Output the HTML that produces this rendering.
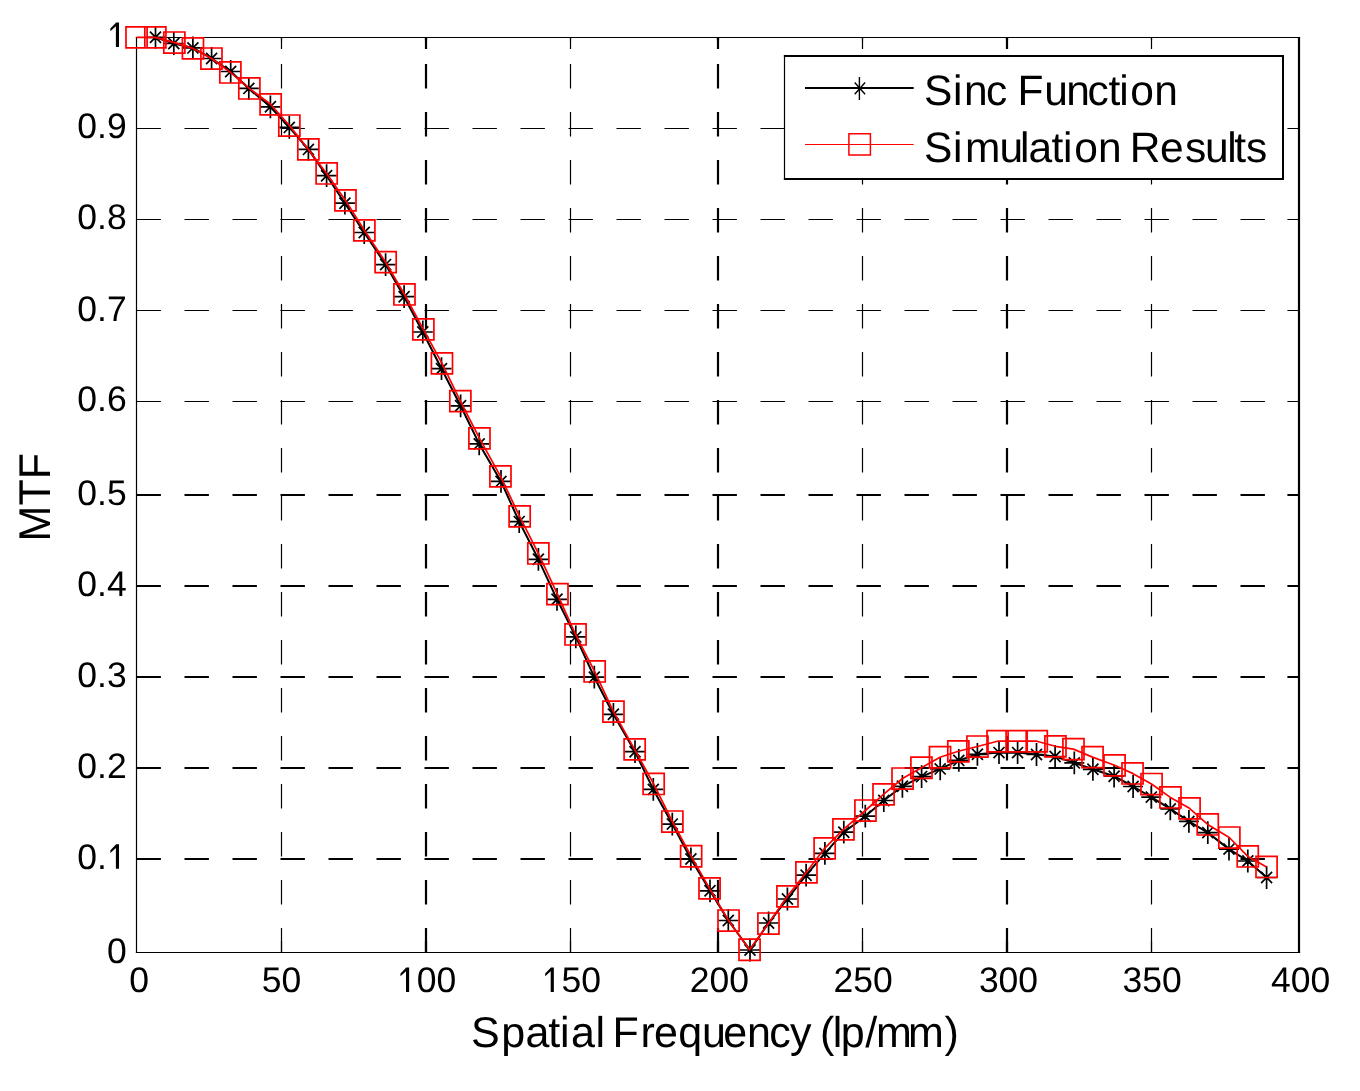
<!DOCTYPE html><html><head><meta charset="utf-8"><style>html,body{margin:0;padding:0;background:#fff;overflow:hidden}svg{display:block;will-change:transform}text{font-family:"Liberation Sans",sans-serif}</style></head><body><svg width="1360" height="1091" viewBox="0 0 1360 1091">
<rect x="0" y="0" width="1360" height="1091" fill="#fff"/>
<g stroke="#000" fill="none" stroke-dasharray="24.4 23.6"><path d="M281.5,952.5V37.5" stroke-width="1.2"/><path d="M426.0,952.5V37.5" stroke-width="2.2"/><path d="M570.5,952.5V37.5" stroke-width="1.2"/><path d="M718.0,952.5V37.5" stroke-width="2.2"/><path d="M862.5,952.5V37.5" stroke-width="1.2"/><path d="M1007.0,952.5V37.5" stroke-width="2.2"/><path d="M1151.5,952.5V37.5" stroke-width="1.2"/><path d="M136.5,859.0H1299.0" stroke-width="2.2"/><path d="M136.5,768.0H1299.0" stroke-width="2.2"/><path d="M136.5,677.0H1299.0" stroke-width="2.2"/><path d="M136.5,586.0H1299.0" stroke-width="2.2"/><path d="M136.5,495.0H1299.0" stroke-width="2.2"/><path d="M136.5,401.5H1299.0" stroke-width="1.2"/><path d="M136.5,310.5H1299.0" stroke-width="1.2"/><path d="M136.5,219.5H1299.0" stroke-width="1.2"/><path d="M136.5,128.5H1299.0" stroke-width="1.2"/></g>
<g stroke="#000" fill="none"><path d="M281.5,952.5v-11.6M281.5,37.5v11.6" stroke-width="1.2"/><path d="M426.0,952.5v-11.6M426.0,37.5v11.6" stroke-width="2.2"/><path d="M570.5,952.5v-11.6M570.5,37.5v11.6" stroke-width="1.2"/><path d="M718.0,952.5v-11.6M718.0,37.5v11.6" stroke-width="2.2"/><path d="M862.5,952.5v-11.6M862.5,37.5v11.6" stroke-width="1.2"/><path d="M1007.0,952.5v-11.6M1007.0,37.5v11.6" stroke-width="2.2"/><path d="M1151.5,952.5v-11.6M1151.5,37.5v11.6" stroke-width="1.2"/><path d="M136.5,859.0h11.6M1299.0,859.0h-11.6" stroke-width="2.2"/><path d="M136.5,768.0h11.6M1299.0,768.0h-11.6" stroke-width="2.2"/><path d="M136.5,677.0h11.6M1299.0,677.0h-11.6" stroke-width="2.2"/><path d="M136.5,586.0h11.6M1299.0,586.0h-11.6" stroke-width="2.2"/><path d="M136.5,495.0h11.6M1299.0,495.0h-11.6" stroke-width="2.2"/><path d="M136.5,401.5h11.6M1299.0,401.5h-11.6" stroke-width="1.2"/><path d="M136.5,310.5h11.6M1299.0,310.5h-11.6" stroke-width="1.2"/><path d="M136.5,219.5h11.6M1299.0,219.5h-11.6" stroke-width="1.2"/><path d="M136.5,128.5h11.6M1299.0,128.5h-11.6" stroke-width="1.2"/><path d="M136.5,953.1V36.9" stroke-width="1.2"/><path d="M1299.0,953.1V36.9" stroke-width="2.2"/><path d="M135.9,952.5H1300.1" stroke-width="1.2"/><path d="M135.9,37.5H1300.1" stroke-width="1.2"/></g>
<g font-family="Liberation Sans" font-size="35.5" fill="#000" text-rendering="geometricPrecision"><text x="129.18" y="0" transform="translate(0,992.00) scale(1,1.0)">0</text><text x="261.81" y="0" transform="translate(0,992.00) scale(1,1.0)">50</text><text x="397.08" y="0" transform="translate(0,992.00) scale(1,1.0)"> 00</text><path transform="translate(397.08,992.00) scale(0.01733,-0.01733)" d="M515,0L515,1200L197,905L197,1070L530,1409L696,1409L696,0Z"/><text x="541.78" y="0" transform="translate(0,992.00) scale(1,1.0)"> 50</text><path transform="translate(541.78,992.00) scale(0.01733,-0.01733)" d="M515,0L515,1200L197,905L197,1070L530,1409L696,1409L696,0Z"/><text x="689.78" y="0" transform="translate(0,992.00) scale(1,1.0)">200</text><text x="833.53" y="0" transform="translate(0,992.00) scale(1,1.0)">250</text><text x="978.88" y="0" transform="translate(0,992.00) scale(1,1.0)">300</text><text x="1122.43" y="0" transform="translate(0,992.00) scale(1,1.0)">350</text><text x="1271.03" y="0" transform="translate(0,992.00) scale(1,1.0)">400</text><text x="106.96" y="0" transform="translate(0,963.30) scale(1,1.0)">0</text><text x="77.35" y="0" transform="translate(0,868.70) scale(1,1.0)">0. </text><path transform="translate(106.96,868.70) scale(0.01733,-0.01733)" d="M515,0L515,1200L197,905L197,1070L530,1409L696,1409L696,0Z"/><text x="77.35" y="0" transform="translate(0,778.30) scale(1,1.0)">0.2</text><text x="77.35" y="0" transform="translate(0,686.70) scale(1,1.0)">0.3</text><text x="77.35" y="0" transform="translate(0,596.40) scale(1,1.0)">0.4</text><text x="77.35" y="0" transform="translate(0,505.20) scale(1,1.0)">0.5</text><text x="77.35" y="0" transform="translate(0,411.00) scale(1,1.0)">0.6</text><text x="77.35" y="0" transform="translate(0,320.70) scale(1,1.0)">0.7</text><text x="77.35" y="0" transform="translate(0,228.70) scale(1,1.0)">0.8</text><text x="77.35" y="0" transform="translate(0,137.80) scale(1,1.0)">0.9</text><text x="106.96" y="0" transform="translate(0,47.00) scale(1,1.0)"> </text><path transform="translate(106.96,47.00) scale(0.01733,-0.01733)" d="M515,0L515,1200L197,905L197,1070L530,1409L696,1409L696,0Z"/></g>
<text x="471.0 501.2 525.5 548.3 560.1 571.0 595.5 605.1 612.5 640.5 654.0 678.2 702.0 723.2 746.9 769.2 790.0 811.5 820.1 832.8 840.8 865.2 876.0 908.1 944.5" y="1046.9" font-family="Liberation Sans" font-size="43" fill="#000" text-rendering="geometricPrecision">Spatial Frequency (lp/mm)</text>
<text transform="translate(50.4,541.4) rotate(-90)" textLength="88.3" lengthAdjust="spacingAndGlyphs" font-family="Liberation Sans" font-size="44.5" fill="#000" text-rendering="geometricPrecision">MTF</text>
<path d="M155.5,37.3 L173.8,43.5 L192.9,47.9 L211.6,58.5 L230.7,71.5 L248.8,88.4 L270.4,106.8 L289.3,127.4 L308.4,149.4 L326.6,175.7 L344.9,203.2 L364.2,232.5 L385.6,264.6 L404.1,296.7 L422.8,332.0 L441.5,368.7 L460.6,405.8 L479.2,443.9 L501.0,481.4 L519.2,521.6 L538.4,559.3 L557.0,599.3 L575.8,636.9 L594.3,677.2 L613.4,714.3 L635.0,751.7 L653.3,789.4 L672.3,824.1 L690.9,859.0 L710.0,890.8 L728.3,920.5 L750.0,950.0 L768.6,923.0 L787.4,899.0 L806.1,875.2 L824.9,853.4 L843.8,832.2 L865.3,816.2 L883.8,800.5 L902.4,786.3 L921.6,776.6 L940.2,768.9 L958.8,760.4 L977.4,754.3 L999.0,752.6 L1017.6,752.6 L1036.5,754.5 L1055.1,756.5 L1074.3,762.9 L1092.9,769.3 L1114.1,776.2 L1133.1,786.5 L1151.3,797.1 L1170.3,808.9 L1188.9,821.4 L1207.8,832.6 L1229.0,849.1 L1247.8,861.0 L1266.6,877.5" stroke="#000" stroke-width="2.0" fill="none" stroke-linejoin="round"/>
<path d="M145.5,37.3h20.0M155.5,25.9v22.8M150.0,31.7l11.0,11.2M150.0,42.9l11.0,-11.2M163.8,43.5h20.0M173.8,32.1v22.8M168.3,37.9l11.0,11.2M168.3,49.1l11.0,-11.2M182.9,47.9h20.0M192.9,36.5v22.8M187.4,42.3l11.0,11.2M187.4,53.5l11.0,-11.2M201.6,58.5h20.0M211.6,47.1v22.8M206.1,52.9l11.0,11.2M206.1,64.1l11.0,-11.2M220.7,71.5h20.0M230.7,60.1v22.8M225.2,65.9l11.0,11.2M225.2,77.1l11.0,-11.2M238.8,88.4h20.0M248.8,77.0v22.8M243.3,82.8l11.0,11.2M243.3,94.0l11.0,-11.2M260.4,106.8h20.0M270.4,95.4v22.8M264.9,101.2l11.0,11.2M264.9,112.4l11.0,-11.2M279.3,127.4h20.0M289.3,116.0v22.8M283.8,121.8l11.0,11.2M283.8,133.0l11.0,-11.2M298.4,149.4h20.0M308.4,138.0v22.8M302.9,143.8l11.0,11.2M302.9,155.0l11.0,-11.2M316.6,175.7h20.0M326.6,164.3v22.8M321.1,170.1l11.0,11.2M321.1,181.3l11.0,-11.2M334.9,203.2h20.0M344.9,191.8v22.8M339.4,197.6l11.0,11.2M339.4,208.8l11.0,-11.2M354.2,232.5h20.0M364.2,221.1v22.8M358.7,226.9l11.0,11.2M358.7,238.1l11.0,-11.2M375.6,264.6h20.0M385.6,253.2v22.8M380.1,259.0l11.0,11.2M380.1,270.2l11.0,-11.2M394.1,296.7h20.0M404.1,285.3v22.8M398.6,291.1l11.0,11.2M398.6,302.3l11.0,-11.2M412.8,332.0h20.0M422.8,320.6v22.8M417.3,326.4l11.0,11.2M417.3,337.6l11.0,-11.2M431.5,368.7h20.0M441.5,357.3v22.8M436.0,363.1l11.0,11.2M436.0,374.3l11.0,-11.2M450.6,405.8h20.0M460.6,394.4v22.8M455.1,400.2l11.0,11.2M455.1,411.4l11.0,-11.2M469.2,443.9h20.0M479.2,432.5v22.8M473.7,438.3l11.0,11.2M473.7,449.5l11.0,-11.2M491.0,481.4h20.0M501.0,470.0v22.8M495.5,475.8l11.0,11.2M495.5,487.0l11.0,-11.2M509.2,521.6h20.0M519.2,510.2v22.8M513.7,516.0l11.0,11.2M513.7,527.2l11.0,-11.2M528.4,559.3h20.0M538.4,547.9v22.8M532.9,553.7l11.0,11.2M532.9,564.9l11.0,-11.2M547.0,599.3h20.0M557.0,587.9v22.8M551.5,593.7l11.0,11.2M551.5,604.9l11.0,-11.2M565.8,636.9h20.0M575.8,625.5v22.8M570.3,631.3l11.0,11.2M570.3,642.5l11.0,-11.2M584.3,677.2h20.0M594.3,665.8v22.8M588.8,671.6l11.0,11.2M588.8,682.8l11.0,-11.2M603.4,714.3h20.0M613.4,702.9v22.8M607.9,708.7l11.0,11.2M607.9,719.9l11.0,-11.2M625.0,751.7h20.0M635.0,740.3v22.8M629.5,746.1l11.0,11.2M629.5,757.3l11.0,-11.2M643.3,789.4h20.0M653.3,778.0v22.8M647.8,783.8l11.0,11.2M647.8,795.0l11.0,-11.2M662.3,824.1h20.0M672.3,812.7v22.8M666.8,818.5l11.0,11.2M666.8,829.7l11.0,-11.2M680.9,859.0h20.0M690.9,847.6v22.8M685.4,853.4l11.0,11.2M685.4,864.6l11.0,-11.2M700.0,890.8h20.0M710.0,879.4v22.8M704.5,885.2l11.0,11.2M704.5,896.4l11.0,-11.2M718.3,920.5h20.0M728.3,909.1v22.8M722.8,914.9l11.0,11.2M722.8,926.1l11.0,-11.2M740.0,950.0h20.0M750.0,938.6v22.8M744.5,944.4l11.0,11.2M744.5,955.6l11.0,-11.2M758.6,923.0h20.0M768.6,911.6v22.8M763.1,917.4l11.0,11.2M763.1,928.6l11.0,-11.2M777.4,899.0h20.0M787.4,887.6v22.8M781.9,893.4l11.0,11.2M781.9,904.6l11.0,-11.2M796.1,875.2h20.0M806.1,863.8v22.8M800.6,869.6l11.0,11.2M800.6,880.8l11.0,-11.2M814.9,853.4h20.0M824.9,842.0v22.8M819.4,847.8l11.0,11.2M819.4,859.0l11.0,-11.2M833.8,832.2h20.0M843.8,820.8v22.8M838.3,826.6l11.0,11.2M838.3,837.8l11.0,-11.2M855.3,816.2h20.0M865.3,804.8v22.8M859.8,810.6l11.0,11.2M859.8,821.8l11.0,-11.2M873.8,800.5h20.0M883.8,789.1v22.8M878.3,794.9l11.0,11.2M878.3,806.1l11.0,-11.2M892.4,786.3h20.0M902.4,774.9v22.8M896.9,780.7l11.0,11.2M896.9,791.9l11.0,-11.2M911.6,776.6h20.0M921.6,765.2v22.8M916.1,771.0l11.0,11.2M916.1,782.2l11.0,-11.2M930.2,768.9h20.0M940.2,757.5v22.8M934.7,763.3l11.0,11.2M934.7,774.5l11.0,-11.2M948.8,760.4h20.0M958.8,749.0v22.8M953.3,754.8l11.0,11.2M953.3,766.0l11.0,-11.2M967.4,754.3h20.0M977.4,742.9v22.8M971.9,748.7l11.0,11.2M971.9,759.9l11.0,-11.2M989.0,752.6h20.0M999.0,741.2v22.8M993.5,747.0l11.0,11.2M993.5,758.2l11.0,-11.2M1007.6,752.6h20.0M1017.6,741.2v22.8M1012.1,747.0l11.0,11.2M1012.1,758.2l11.0,-11.2M1026.5,754.5h20.0M1036.5,743.1v22.8M1031.0,748.9l11.0,11.2M1031.0,760.1l11.0,-11.2M1045.1,756.5h20.0M1055.1,745.1v22.8M1049.6,750.9l11.0,11.2M1049.6,762.1l11.0,-11.2M1064.3,762.9h20.0M1074.3,751.5v22.8M1068.8,757.3l11.0,11.2M1068.8,768.5l11.0,-11.2M1082.9,769.3h20.0M1092.9,757.9v22.8M1087.4,763.7l11.0,11.2M1087.4,774.9l11.0,-11.2M1104.1,776.2h20.0M1114.1,764.8v22.8M1108.6,770.6l11.0,11.2M1108.6,781.8l11.0,-11.2M1123.1,786.5h20.0M1133.1,775.1v22.8M1127.6,780.9l11.0,11.2M1127.6,792.1l11.0,-11.2M1141.3,797.1h20.0M1151.3,785.7v22.8M1145.8,791.5l11.0,11.2M1145.8,802.7l11.0,-11.2M1160.3,808.9h20.0M1170.3,797.5v22.8M1164.8,803.3l11.0,11.2M1164.8,814.5l11.0,-11.2M1178.9,821.4h20.0M1188.9,810.0v22.8M1183.4,815.8l11.0,11.2M1183.4,827.0l11.0,-11.2M1197.8,832.6h20.0M1207.8,821.2v22.8M1202.3,827.0l11.0,11.2M1202.3,838.2l11.0,-11.2M1219.0,849.1h20.0M1229.0,837.7v22.8M1223.5,843.5l11.0,11.2M1223.5,854.7l11.0,-11.2M1237.8,861.0h20.0M1247.8,849.6v22.8M1242.3,855.4l11.0,11.2M1242.3,866.6l11.0,-11.2M1256.6,877.5h20.0M1266.6,866.1v22.8M1261.1,871.9l11.0,11.2M1261.1,883.1l11.0,-11.2" stroke="#000" stroke-width="1.7" fill="none"/>
<path d="M136.5,37.4 L155.4,37.4 L174.3,42.6 L193.0,48.4 L211.5,58.5 L230.4,72.4 L249.3,88.4 L270.6,104.3 L289.4,125.5 L308.3,149.4 L326.6,173.5 L345.5,200.4 L364.3,230.3 L385.6,262.2 L404.5,294.5 L423.4,329.3 L442.0,363.4 L460.4,401.2 L479.5,438.4 L500.5,476.3 L519.6,516.4 L538.3,553.4 L557.4,594.1 L575.5,634.4 L594.6,671.4 L613.4,711.6 L634.6,749.3 L653.6,783.9 L672.3,821.5 L691.1,856.2 L709.5,888.3 L728.5,920.5 L749.5,949.7 L768.4,923.5 L787.4,896.3 L806.4,872.3 L824.6,848.3 L843.4,829.3 L865.4,810.5 L883.5,794.3 L902.5,778.5 L921.4,767.8 L940.0,757.2 L958.3,751.3 L977.4,746.5 L997.5,741.2 L1016.6,741.2 L1036.8,741.2 L1055.4,746.3 L1073.4,749.1 L1092.5,757.1 L1114.5,765.3 L1132.6,773.4 L1151.5,784.0 L1170.4,797.4 L1189.5,808.3 L1207.7,824.4 L1229.3,837.5 L1247.8,856.4 L1266.6,866.9" stroke="#f00" stroke-width="1.7" fill="none" stroke-linejoin="round"/>
<path d="M126.0,26.8h21.1v21.1h-21.1zM144.8,26.8h21.1v21.1h-21.1zM163.8,32.0h21.1v21.1h-21.1zM182.4,37.8h21.1v21.1h-21.1zM200.9,48.0h21.1v21.1h-21.1zM219.8,61.9h21.1v21.1h-21.1zM238.8,77.9h21.1v21.1h-21.1zM260.1,93.8h21.1v21.1h-21.1zM278.8,115.0h21.1v21.1h-21.1zM297.8,138.8h21.1v21.1h-21.1zM316.1,162.9h21.1v21.1h-21.1zM334.9,189.8h21.1v21.1h-21.1zM353.8,219.8h21.1v21.1h-21.1zM375.1,251.6h21.1v21.1h-21.1zM393.9,283.9h21.1v21.1h-21.1zM412.8,318.8h21.1v21.1h-21.1zM431.4,352.8h21.1v21.1h-21.1zM449.8,390.6h21.1v21.1h-21.1zM468.9,427.8h21.1v21.1h-21.1zM489.9,465.8h21.1v21.1h-21.1zM509.1,505.8h21.1v21.1h-21.1zM527.8,542.9h21.1v21.1h-21.1zM546.9,583.6h21.1v21.1h-21.1zM565.0,623.9h21.1v21.1h-21.1zM584.1,660.9h21.1v21.1h-21.1zM602.9,701.1h21.1v21.1h-21.1zM624.1,738.8h21.1v21.1h-21.1zM643.1,773.4h21.1v21.1h-21.1zM661.8,811.0h21.1v21.1h-21.1zM680.6,845.7h21.1v21.1h-21.1zM699.0,877.8h21.1v21.1h-21.1zM718.0,910.0h21.1v21.1h-21.1zM739.0,939.2h21.1v21.1h-21.1zM757.9,913.0h21.1v21.1h-21.1zM776.9,885.8h21.1v21.1h-21.1zM795.9,861.8h21.1v21.1h-21.1zM814.1,837.8h21.1v21.1h-21.1zM832.9,818.8h21.1v21.1h-21.1zM854.9,800.0h21.1v21.1h-21.1zM873.0,783.8h21.1v21.1h-21.1zM892.0,768.0h21.1v21.1h-21.1zM910.9,757.2h21.1v21.1h-21.1zM929.5,746.7h21.1v21.1h-21.1zM947.8,740.8h21.1v21.1h-21.1zM966.9,736.0h21.1v21.1h-21.1zM987.0,730.7h21.1v21.1h-21.1zM1006.1,730.7h21.1v21.1h-21.1zM1026.2,730.7h21.1v21.1h-21.1zM1044.9,735.8h21.1v21.1h-21.1zM1062.9,738.6h21.1v21.1h-21.1zM1082.0,746.6h21.1v21.1h-21.1zM1104.0,754.8h21.1v21.1h-21.1zM1122.0,762.9h21.1v21.1h-21.1zM1141.0,773.5h21.1v21.1h-21.1zM1159.9,786.9h21.1v21.1h-21.1zM1179.0,797.8h21.1v21.1h-21.1zM1197.2,813.9h21.1v21.1h-21.1zM1218.8,827.0h21.1v21.1h-21.1zM1237.2,845.9h21.1v21.1h-21.1zM1256.0,856.4h21.1v21.1h-21.1z" stroke="#f00" stroke-width="1.7" fill="none"/>
<rect x="784.5" y="56" width="498.5" height="123" fill="#fff"/>
<g stroke="#000" fill="none"><path d="M784.5,54.9V180" stroke-width="1.2"/><path d="M1283,54.9V180" stroke-width="2"/><path d="M783.9,56H1284" stroke-width="2"/><path d="M783.9,179H1284" stroke-width="2"/></g>
<path d="M805,87.9H913.7" stroke="#000" stroke-width="2"/>
<path d="M859.4,77V99.9M854.7,82.5l10.4,11.8M854.7,94.3l10.4,-11.8" stroke="#000" stroke-width="1.4" fill="none"/>
<path d="M805,144.45H913.7" stroke="#f00" stroke-width="1.1"/>
<path d="M848.9,133.7h21.5v21.3h-21.5z" stroke="#f00" stroke-width="1.5" fill="none"/>
<g font-family="Liberation Sans" font-size="42.5" fill="#000" text-rendering="geometricPrecision"><text x="924.1 953.0 964.0 986.1 1007.3 1017.4 1044.2 1066.2 1087.4 1108.6 1119.3 1130.3 1154.3" y="105.3">Sinc Function</text><text x="924.1 953.0 965.1 999.6 1020.0 1028.4 1051.5 1062.9 1074.2 1098.1 1121.7 1129.7 1160.0 1184.9 1205.1 1227.2 1234.3 1245.9" y="162.2">Simulation Results</text></g>
</svg></body></html>
